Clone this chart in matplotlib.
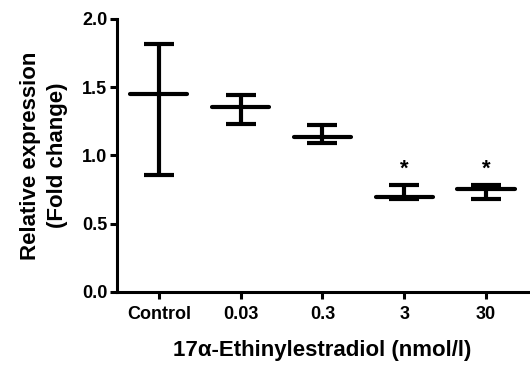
import matplotlib
matplotlib.use("Agg")
import matplotlib.pyplot as plt
import numpy as np

categories = ["Control", "0.03", "0.3", "3", "30"]
means = [1.45, 1.353, 1.138, 0.696, 0.755]
upper = [1.82, 1.443, 1.223, 0.782, 0.782]
lower = [0.857, 1.23, 1.089, 0.68, 0.681]
significant = [False, False, False, True, True]

plt.rcParams['font.family'] = ['Liberation Sans', 'DejaVu Sans']
plt.rcParams['font.weight'] = 'bold'

fig = plt.figure(figsize=(5.3, 3.65), dpi=100)
ax = fig.add_axes([0.2208, 0.2, 0.7752, 0.748])

x = np.arange(len(categories))
m = np.array(means)
yerr = np.vstack([m - np.array(lower), np.array(upper) - m])
ax.errorbar(x, m, yerr=yerr, fmt='none', ecolor='black', elinewidth=3.0,
            capsize=10.8, capthick=3.0)
ax.hlines(m, x - 0.35, x + 0.35, colors='black', linewidth=3.0,
          capstyle='round')

for xi, up, s in zip(x, upper, significant):
    if s:
        ax.text(xi, up + 0.12, "*", ha='center', va='center', fontsize=16,
                fontweight='bold')

ax.set_xlim(-0.51, 4.51)
ax.set_ylim(0, 2.0)
ax.set_yticks([0, 0.5, 1.0, 1.5, 2.0])
ax.set_yticklabels(["0.0", "0.5", "1.0", "1.5", "2.0"])
ax.set_xticks(x)
ax.set_xticklabels(categories)
for sp in ['top', 'right']:
    ax.spines[sp].set_visible(False)
for sp in ['left', 'bottom']:
    ax.spines[sp].set_linewidth(2.2)
ax.tick_params(axis='both', width=2.2, length=5, labelsize=13)
ax.tick_params(axis='x', pad=5)
ax.tick_params(axis='y', pad=2)
for lab in ax.get_xticklabels() + ax.get_yticklabels():
    lab.set_fontweight('bold')

ax.set_ylabel("Relative expression\n(Fold change)", fontsize=16,
              fontweight='bold', labelpad=10, linespacing=1.35)
ax.set_xlabel("17\u03b1-Ethinylestradiol (nmol/l)", fontsize=16,
              fontweight='bold', labelpad=12)

fig.savefig("out.png", dpi=100)
